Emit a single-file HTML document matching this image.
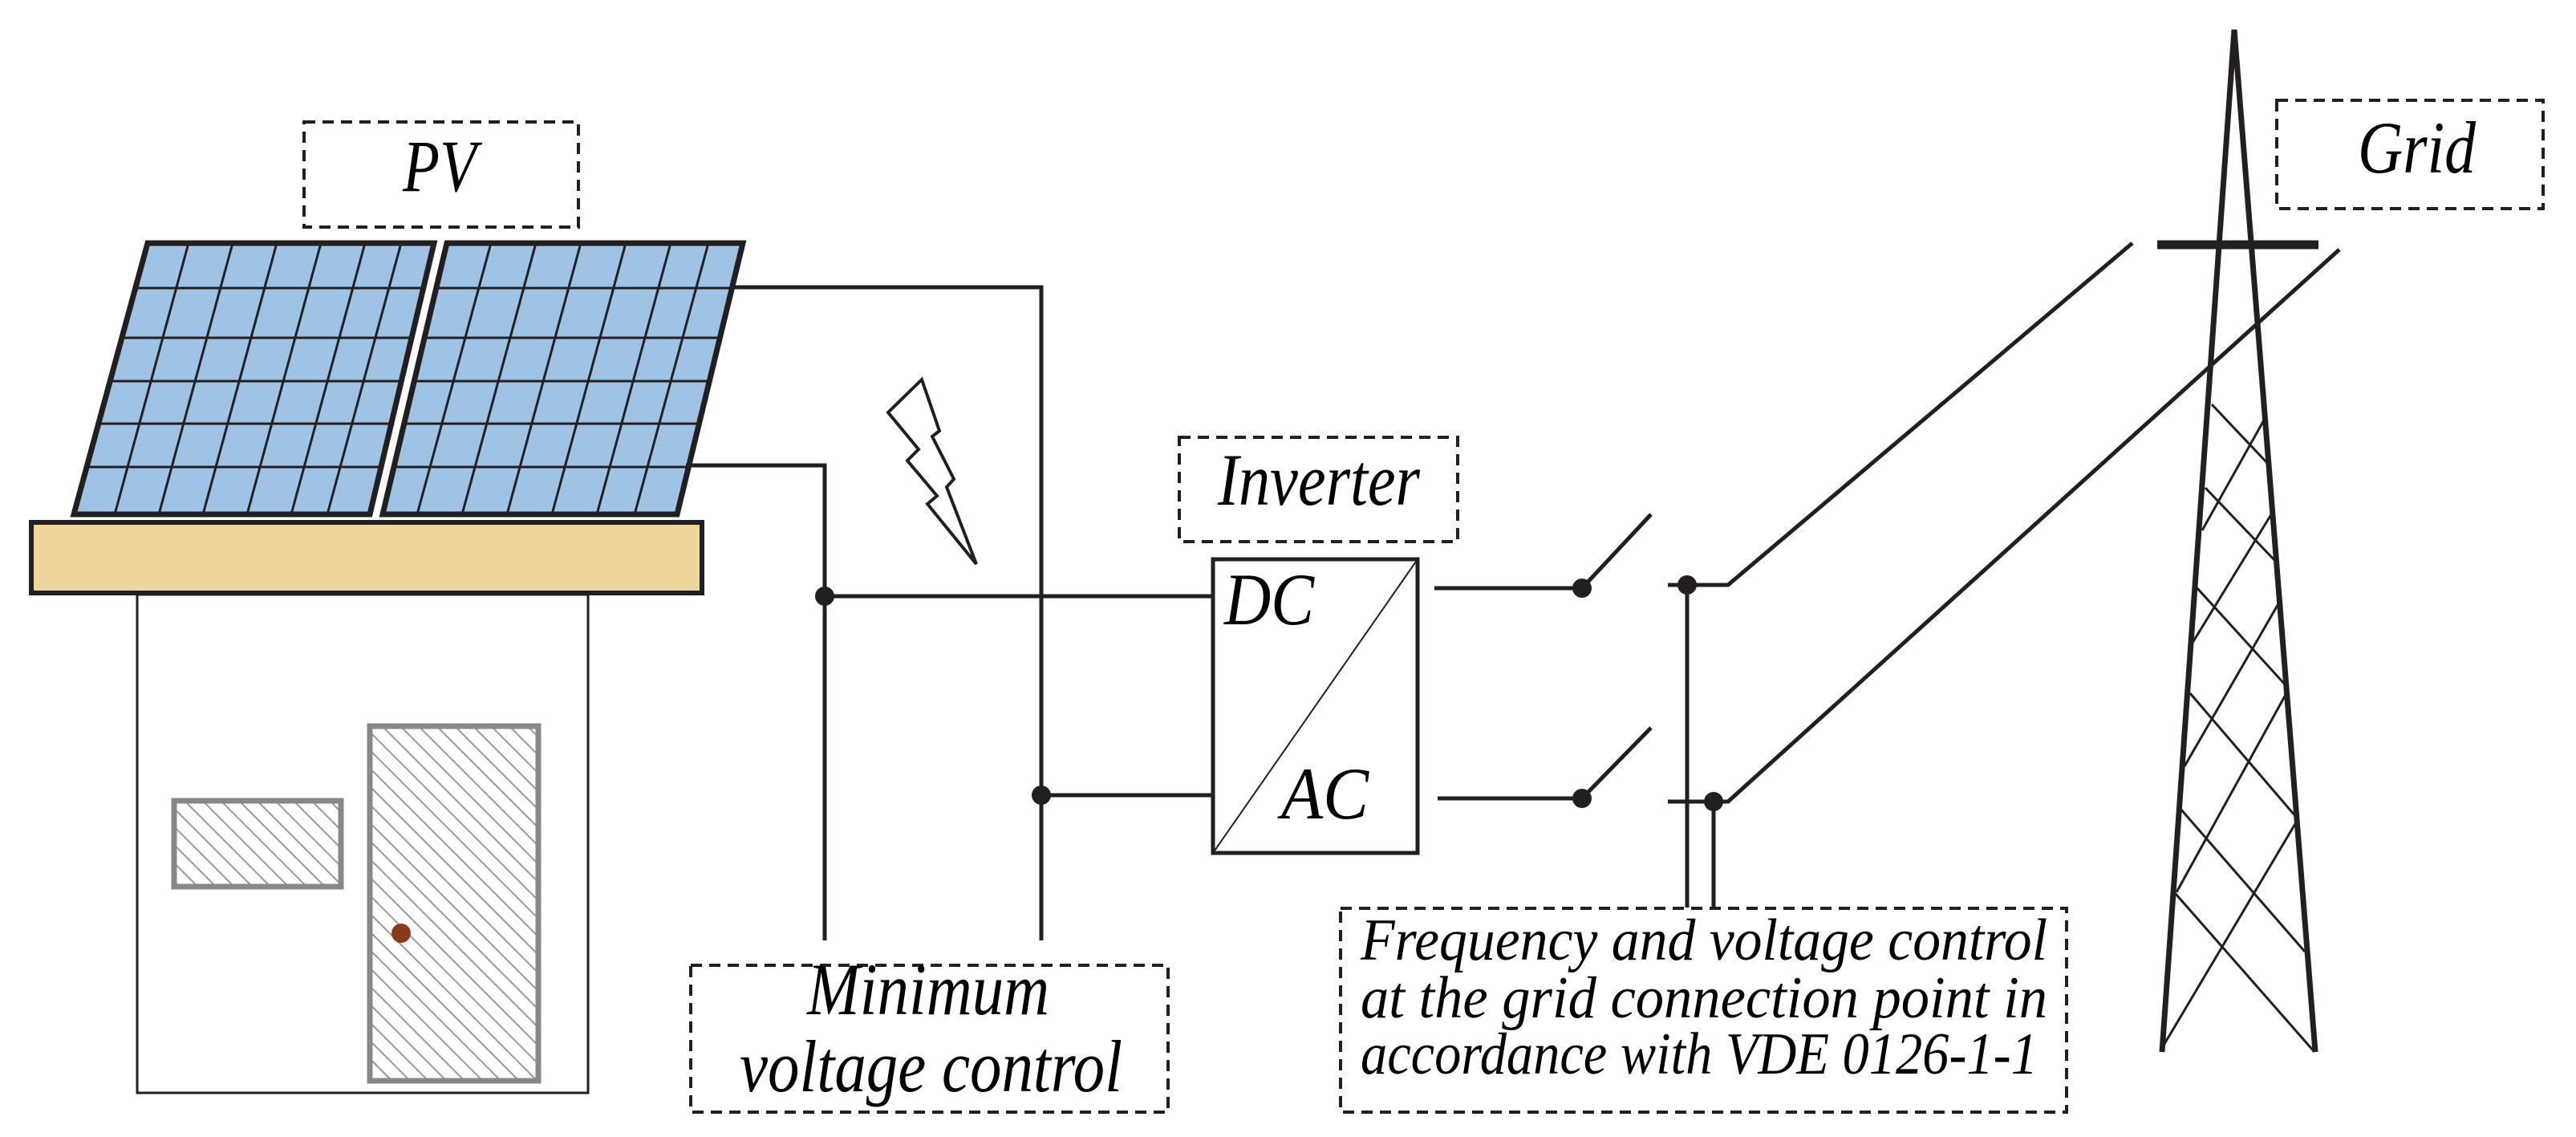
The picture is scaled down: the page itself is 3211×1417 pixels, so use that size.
<!DOCTYPE html>
<html><head><meta charset="utf-8"><style>html,body{margin:0;padding:0;background:#fff}svg{display:block}</style></head><body>
<svg width="3211" height="1417" viewBox="0 0 3211 1417" xmlns="http://www.w3.org/2000/svg" font-family="'Liberation Serif', serif" font-style="italic">
<defs>
<pattern id="h" patternUnits="userSpaceOnUse" width="16" height="16" patternTransform="rotate(-45)">
<rect width="16" height="16" fill="#fff"/><line x1="0" y1="0" x2="0" y2="16" stroke="#9a9a9a" stroke-width="4"/></pattern>
<clipPath id="cl"><polygon points="184,303 541,303 461,641 92,641"/></clipPath>
<clipPath id="cr"><polygon points="557,303 926,303 844,641 477,641"/></clipPath>
</defs>
<g fill="none" stroke="#231f20" stroke-width="5">
<rect x="379" y="152" width="342" height="131" stroke-dasharray="14 9" stroke-width="4"/>
<!-- panels -->
<polygon points="184,303 541,303 461,641 92,641" fill="#9fc3e5"/>
<polygon points="557,303 926,303 844,641 477,641" fill="#9fc3e5"/>
<g stroke-width="3" clip-path="url(#cl)">
<line x1="0" y1="359" x2="600" y2="359"/><line x1="0" y1="421" x2="600" y2="421"/><line x1="0" y1="475" x2="600" y2="475"/><line x1="0" y1="528" x2="600" y2="528"/><line x1="0" y1="582" x2="600" y2="582"/>
<line x1="235" y1="303" x2="143" y2="641"/><line x1="290" y1="303" x2="198" y2="641"/><line x1="345" y1="303" x2="253" y2="641"/><line x1="400" y1="303" x2="308" y2="641"/><line x1="455" y1="303" x2="363" y2="641"/><line x1="500" y1="303" x2="408" y2="641"/>
</g>
<g stroke-width="3" clip-path="url(#cr)">
<line x1="400" y1="359" x2="1000" y2="359"/><line x1="400" y1="421" x2="1000" y2="421"/><line x1="400" y1="475" x2="1000" y2="475"/><line x1="400" y1="528" x2="1000" y2="528"/><line x1="400" y1="582" x2="1000" y2="582"/>
<line x1="612" y1="303" x2="520" y2="641"/><line x1="668" y1="303" x2="576" y2="641"/><line x1="724" y1="303" x2="632" y2="641"/><line x1="780" y1="303" x2="688" y2="641"/><line x1="836" y1="303" x2="744" y2="641"/><line x1="883" y1="303" x2="791" y2="641"/>
</g>
<polygon points="184,303 541,303 461,641 92,641" stroke-width="7"/>
<polygon points="557,303 926,303 844,641 477,641" stroke-width="7"/>
<rect x="39" y="651" width="836" height="88" fill="#ecd49b" stroke-width="6"/>
<rect x="171" y="741" width="562" height="621" stroke-width="3"/>
<rect x="217" y="998" width="208" height="107" fill="url(#h)" stroke="#888" stroke-width="7"/>
<rect x="461" y="905" width="210" height="442" fill="url(#h)" stroke="#888" stroke-width="7"/>
<circle cx="500" cy="1163" r="12" fill="#8b3a1a" stroke="none"/>
<polyline points="915,358 1298,358 1298,1172"/>
<polyline points="855,580 1028,580 1028,1172"/>
<line x1="1028" y1="743" x2="1512" y2="743"/>
<line x1="1298" y1="991" x2="1512" y2="991"/>
<rect x="861" y="1203" width="595" height="183" stroke-dasharray="14 9" stroke-width="4"/>
<polygon points="1149,473 1107,514 1145,560 1131,574 1168,618 1156,628 1217,703 1180,607 1189,597 1162,544 1171,537" stroke-width="4" stroke-linejoin="miter"/>
<rect x="1470" y="545" width="347" height="130" stroke-dasharray="14 9" stroke-width="4"/>
<rect x="1512" y="697" width="255" height="366" stroke-width="5"/>
<line x1="1512" y1="1063" x2="1767" y2="697" stroke-width="2"/>
<line x1="1788" y1="733" x2="1972" y2="733"/>
<line x1="1972" y1="733" x2="2058" y2="641"/>
<line x1="1792" y1="995" x2="1972" y2="995"/>
<line x1="1972" y1="995" x2="2058" y2="907"/>
<polyline points="2079,729 2154,729 2658,303"/>
<polyline points="2079,999 2154,999 2916,311"/>
<line x1="2103" y1="729" x2="2103" y2="1131"/>
<line x1="2136" y1="999" x2="2136" y2="1131"/>
<rect x="1671" y="1132" width="905" height="254" stroke-dasharray="14 9" stroke-width="4"/>
<polyline points="2695,1311 2785,37 2886,1311" stroke-width="7"/>
<line x1="2689" y1="305" x2="2890" y2="305" stroke-width="11"/>
<g stroke-width="3">
<line x1="2757" y1="504" x2="2828" y2="579"/>
<line x1="2749" y1="608" x2="2837" y2="700"/>
<line x1="2737" y1="731" x2="2850" y2="855"/>
<line x1="2730" y1="864" x2="2862" y2="1018"/>
<line x1="2718" y1="1008" x2="2873" y2="1186"/>
<line x1="2712" y1="1114" x2="2885" y2="1311"/>
<line x1="2824" y1="520" x2="2745" y2="661"/>
<line x1="2833" y1="638" x2="2733" y2="801"/>
<line x1="2842" y1="749" x2="2723" y2="955"/>
<line x1="2850" y1="864" x2="2713" y2="1112"/>
<line x1="2862" y1="1025" x2="2695" y2="1306"/>
</g>
<rect x="2838" y="125" width="332" height="135" stroke-dasharray="14 9" stroke-width="4"/>
</g>
<g fill="#231f20">
<circle cx="1028" cy="743" r="12"/><circle cx="1298" cy="991" r="12"/>
<circle cx="1972" cy="733" r="12"/><circle cx="1972" cy="995" r="12"/>
<circle cx="2103" cy="729" r="12"/><circle cx="2136" cy="999" r="12"/>
</g>
<g fill="#000" font-size="92">
<text x="502" y="238" textLength="92" lengthAdjust="spacingAndGlyphs">PV</text>
<text x="1518" y="629" textLength="252" lengthAdjust="spacingAndGlyphs">Inverter</text>
<text x="1526" y="778" textLength="112" lengthAdjust="spacingAndGlyphs">DC</text>
<text x="1597" y="1020" textLength="109" lengthAdjust="spacingAndGlyphs">AC</text>
<text x="2939" y="215" textLength="147" lengthAdjust="spacingAndGlyphs">Grid</text>
<text x="1006" y="1264" textLength="302" lengthAdjust="spacingAndGlyphs">Minimum</text>
<text x="922" y="1360" textLength="477" lengthAdjust="spacingAndGlyphs">voltage control</text>
</g>
<g fill="#000" font-size="74">
<text x="1696" y="1196" textLength="856" lengthAdjust="spacingAndGlyphs">Frequency and voltage control</text>
<text x="1696" y="1268" textLength="856" lengthAdjust="spacingAndGlyphs">at the grid connection point in</text>
<text x="1696" y="1338" textLength="844" lengthAdjust="spacingAndGlyphs">accordance with VDE 0126-1-1</text>
</g>
</svg>
</body></html>
